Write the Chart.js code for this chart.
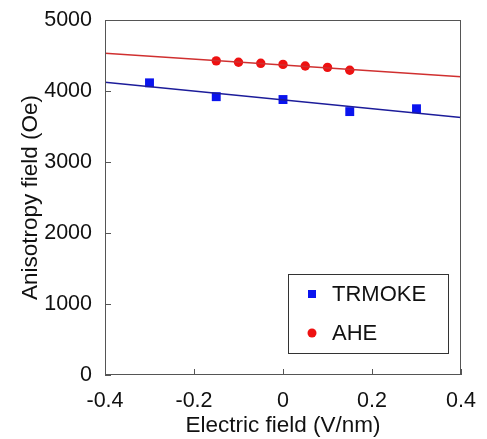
<!DOCTYPE html>
<html>
<head>
<meta charset="utf-8">
<script src="https://cdn.jsdelivr.net/npm/chart.js@4.4.1/dist/chart.umd.min.js"></script>
<style>
  body { margin: 0; background: #fff; }
  #wrap { width: 487px; height: 439px; }
</style>
</head>
<body>
<div id="wrap"><canvas id="hk" width="487" height="439"></canvas></div>
<script>
// measured points
var trmokeField = [-0.3, -0.15, 0, 0.15, 0.3];
var trmokeHk = [4115, 3920, 3880, 3710, 3750];
var aheField = [-0.15, -0.1, -0.05, 0, 0.05, 0.1, 0.15];
var aheHk = [4425, 4405, 4390, 4375, 4352, 4333, 4292];
// linear fits (end points)
var fitField = [-0.4, 0.4];
var trmokeFit = [4125, 3625];
var aheFit = [4530, 4200];

var xTicks = [-0.4, -0.2, 0, 0.2, 0.4];
var yTicks = [0, 1000, 2000, 3000, 4000, 5000];

function pts(xs, ys) {
  return xs.map(function (x, i) { return { x: x, y: ys[i] }; });
}

var font = "'Liberation Sans', Arial, sans-serif";

// frame + inward tick marks + legend box
var framePlugin = {
  id: 'frame',
  afterDraw: function (chart) {
    var c = chart.ctx, a = chart.chartArea;
    var xs = chart.scales.x, ys = chart.scales.y;
    c.save();
    c.strokeStyle = '#555';
    c.lineWidth = 1;
    c.strokeRect(a.left + 0.5, a.top + 0.5, a.right - a.left - 1, a.bottom - a.top - 1);
    c.beginPath();
    xTicks.forEach(function (t) {
      var px = Math.round(xs.getPixelForValue(t)) + 0.5;
      c.moveTo(px, a.bottom);
      c.lineTo(px, a.bottom - 6);
    });
    yTicks.forEach(function (t) {
      var py = Math.round(ys.getPixelForValue(t)) + 0.5;
      c.moveTo(a.left, py);
      c.lineTo(a.left + 6, py);
    });
    c.stroke();

    // legend
    var bx = 288, by = 274, bw = 160, bh = 79;
    c.fillStyle = '#fff';
    c.fillRect(bx, by, bw, bh);
    c.strokeStyle = '#333';
    c.strokeRect(bx + 0.5, by + 0.5, bw, bh);
    var items = chart.data.datasets.filter(function (d) { return d.showInLegend; });
    c.font = '22px ' + font;
    c.textBaseline = 'middle';
    items.forEach(function (d, i) {
      var cy = by + 20 + i * 39;
      c.fillStyle = d.backgroundColor;
      if (d.pointStyle === 'rect') {
        c.fillRect(bx + 20, cy - 4, 8, 8);
      } else {
        c.beginPath();
        c.arc(bx + 24, cy, 4.5, 0, Math.PI * 2);
        c.fill();
      }
      c.fillStyle = '#111';
      c.fillText(d.label, bx + 44, cy + 1);
    });
    c.restore();
  }
};

new Chart(document.getElementById('hk'), {
  type: 'scatter',
  data: {
    datasets: [
      {
        label: 'TRMOKE fit',
        type: 'line',
        data: pts(fitField, trmokeFit),
        borderColor: '#1c1c9a',
        borderWidth: 1.5,
        pointRadius: 0,
        fill: false
      },
      {
        label: 'AHE fit',
        type: 'line',
        data: pts(fitField, aheFit),
        borderColor: '#d03030',
        borderWidth: 1.5,
        pointRadius: 0,
        fill: false
      },
      {
        label: 'TRMOKE',
        showInLegend: true,
        data: pts(trmokeField, trmokeHk),
        pointStyle: 'rect',
        pointRadius: 6.3,
        backgroundColor: '#0a14ee',
        borderColor: '#0a14ee',
        borderWidth: 0
      },
      {
        label: 'AHE',
        showInLegend: true,
        data: pts(aheField, aheHk),
        pointStyle: 'circle',
        pointRadius: 4.7,
        backgroundColor: '#ee1111',
        borderColor: '#ee1111',
        borderWidth: 0
      }
    ]
  },
  options: {
    responsive: false,
    animation: false,
    layout: { padding: { top: 20, right: 26, left: 0, bottom: 0 } },
    plugins: { legend: { display: false }, tooltip: { enabled: false } },
    scales: {
      x: {
        type: 'linear',
        min: -0.4,
        max: 0.4,
        afterFit: function (s) { s.height = 64; s.paddingLeft = 0; s.paddingRight = 0; },
        afterBuildTicks: function (s) { s.ticks = xTicks.map(function (v) { return { value: v }; }); },
        grid: { display: false, drawTicks: false },
        border: { display: false },
        ticks: {
          padding: 13,
          color: '#111',
          font: { family: font, size: 21.5 },
          callback: function (v) { return String(Number(v.toFixed(1))); }
        },
        title: {
          display: true,
          text: 'Electric field (V/nm)',
          color: '#111',
          font: { family: font, size: 22.5, lineHeight: 1.2 },
          padding: { top: 0, bottom: 0 }
        }
      },
      y: {
        min: 0,
        max: 5000,
        afterFit: function (s) { s.width = 105; s.paddingTop = 0; s.paddingBottom = 0; },
        afterBuildTicks: function (s) { s.ticks = yTicks.map(function (v) { return { value: v }; }); },
        grid: { display: false, drawTicks: false },
        border: { display: false },
        ticks: {
          padding: 13,
          color: '#111',
          font: { family: font, size: 21.5 },
          callback: function (v) { return String(v); }
        },
        title: {
          display: true,
          text: 'Anisotropy field (Oe)',
          color: '#111',
          font: { family: font, size: 22.5, lineHeight: 1.2 },
          padding: { top: 17, bottom: 0 }
        }
      }
    }
  },
  plugins: [framePlugin]
});
</script>
</body>
</html>
